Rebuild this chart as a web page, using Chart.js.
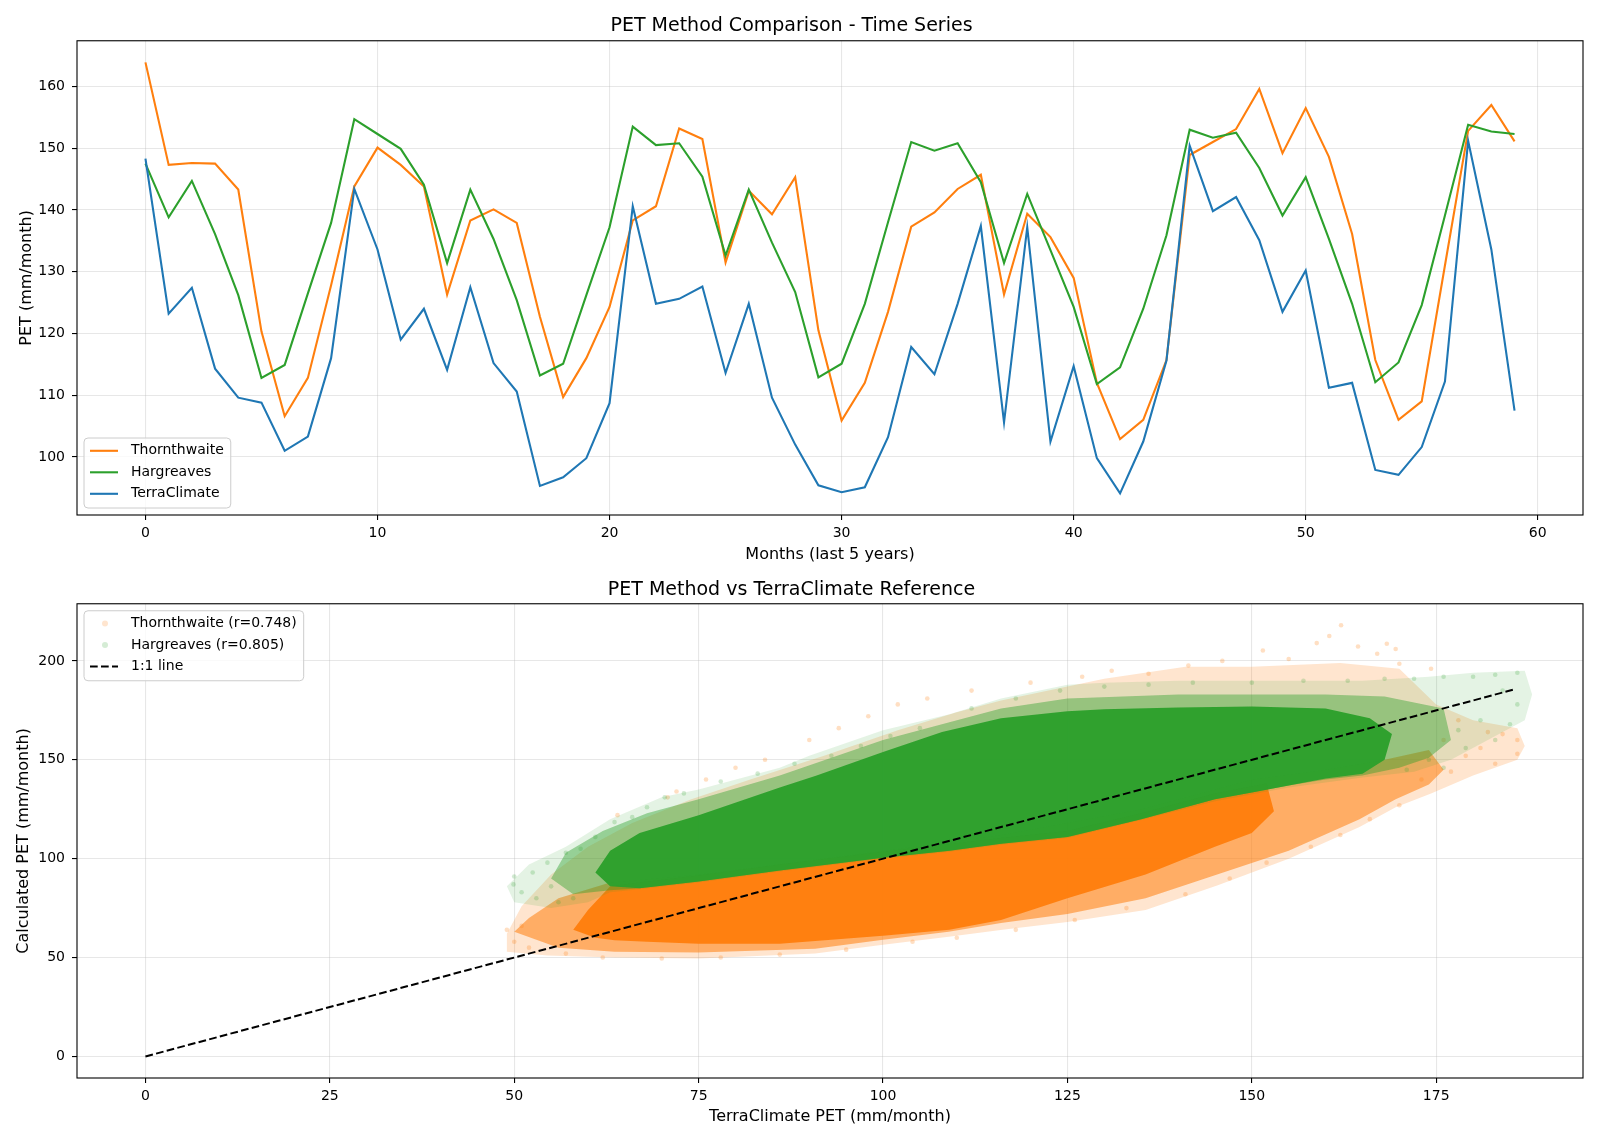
<!DOCTYPE html>
<html>
<head>
<meta charset="utf-8">
<script src="https://cdn.jsdelivr.net/npm/chart.js@4.4.0/dist/chart.umd.min.js"></script>
<style>
html, body { margin: 0; padding: 0; background: #fff; }
#wrap { position: relative; width: 1600px; height: 1142px; }
canvas { position: absolute; left: 0; }
</style>
</head>
<body>
<div id="wrap">
	<canvas id="tsChart" width="1600" height="565" style="top:0"></canvas>
	<canvas id="refChart" width="1600" height="577" style="top:565px"></canvas>
</div>
<script>
'use strict';

// monthly PET, last 5 years (mm/month)
var months = Array.from({length: 60}, function(_, i) { return i; });
var thornthwaite = [163.9, 147.3, 147.6, 147.5, 143.3, 120.3, 106.6, 112.8, 127.8, 143.8,
	150.1, 147.3, 143.8, 126.3, 138.3, 140.1, 137.9, 122.7, 109.7, 116.0,
	124.3, 138.3, 140.6, 153.2, 151.5, 131.5, 143.1, 139.3, 145.3, 120.5,
	105.9, 112.0, 123.5, 137.3, 139.6, 143.4, 145.7, 126.3, 139.4, 135.6,
	129.0, 112.0, 102.9, 106.0, 115.7, 148.9, 151.0, 153.1, 159.6, 149.2,
	156.5, 148.6, 136.1, 115.7, 106.0, 109.0, 131.0, 152.8, 157.0, 151.1];
var hargreaves = [147.5, 138.8, 144.7, 136.1, 126.2, 112.8, 114.9, 126.5, 137.9, 154.7,
	152.3, 149.9, 144.1, 131.4, 143.3, 135.3, 125.4, 113.2, 115.1, 126.2,
	137.2, 153.5, 150.5, 150.8, 145.4, 132.6, 143.3, 134.7, 126.7, 112.9,
	115.1, 124.8, 138.0, 151.0, 149.6, 150.8, 144.5, 131.4, 142.6, 133.5,
	124.3, 111.8, 114.5, 124.0, 135.9, 153.0, 151.7, 152.5, 146.8, 139.1,
	145.3, 135.3, 124.8, 112.1, 115.3, 124.6, 139.1, 153.8, 152.7, 152.3];
var terraClimate = [148.3, 123.2, 127.4, 114.3, 109.6, 108.8, 101.0, 103.3, 116.0, 143.4,
	133.6, 119.0, 124.0, 114.1, 127.5, 115.2, 110.6, 95.3, 96.7, 99.8,
	108.7, 140.6, 124.8, 125.6, 127.6, 113.6, 124.8, 109.6, 102.0, 95.4,
	94.3, 95.1, 103.2, 117.8, 113.4, 124.8, 137.4, 105.6, 137.2, 102.5,
	114.7, 99.8, 94.1, 102.5, 115.6, 150.4, 139.8, 142.1, 135.1, 123.5,
	130.2, 111.2, 112.0, 97.9, 97.1, 101.6, 112.2, 151.2, 133.6, 107.5];

var monthTicks = [0, 10, 20, 30, 40, 50, 60];
var petTicks = [100, 110, 120, 130, 140, 150, 160];

// scatter clouds vs TerraClimate, outlined as density bands [terraclimate, calculated]
var orangeHalo = [[49, 53], [54.5, 51], [63.6, 50], [75, 49.5], [90.8, 52], [100, 56.5], [108.9, 60.5], [116.2, 64], [125, 68],
	[135.6, 74], [145.3, 86.5], [155, 100], [164.6, 116], [169.5, 126], [174.3, 133], [180, 142], [186, 150], [187, 157], [186, 166],
	[180, 170], [175, 178], [170, 196], [162, 199], [150, 197], [141, 197], [130, 191], [125, 187], [116, 180], [110, 174],
	[102, 165], [92, 152], [82, 140], [74, 130], [66, 118], [60, 106], [55, 92], [51, 76], [49, 62]];
var orangeMid = [[50, 63], [56, 55], [63.6, 53], [75, 52.5], [90.8, 54.5], [100, 59], [108.9, 63], [116, 67.5], [125, 72],
	[135.6, 80], [145.3, 92], [155, 104], [164.6, 120], [169.5, 130], [174, 137.5], [176, 145], [174, 155],
	[168, 150], [160, 145], [150, 140], [135, 125], [116, 112], [100, 104], [75, 92], [63, 88], [56, 80], [52, 70]];
var orangeCore = [[58, 64], [61, 60], [63.6, 58.7], [68, 58], [75, 57], [86, 57], [100, 61], [109, 64], [116, 69], [125, 80],
	[135.6, 92], [145, 106], [150, 113], [153, 124],
	[152, 138], [145, 133], [135, 123], [125, 114], [116, 110.5], [100, 103.5], [86, 97], [75, 91.5], [67, 88], [63, 86], [60, 74]];
var orangeStray = [[162.1, 218], [160.5, 212.6], [158.8, 209], [151.5, 205.3], [164.4, 207.3], [168.3, 208.7], [169.5, 206],
	[167, 203.6], [141.4, 197.7], [136, 193.5], [170, 198.6], [174.3, 196], [146, 200], [155, 201], [131, 195], [127, 192],
	[120, 189], [112, 185], [106, 181], [102, 178], [98, 172], [94, 166], [90, 160], [84, 150], [80, 146], [76, 140],
	[72, 134], [70.8, 131], [64, 122],
	[176, 160], [179, 152], [181, 156], [183, 148], [184, 163], [186, 153], [186, 160], [178, 170], [182, 164], [177, 144],
	[173, 140],
	[170, 127], [166, 120], [162, 112], [158, 106], [152, 98], [147, 90], [141, 82], [133, 75], [126, 69], [118, 64],
	[110, 60], [104, 58], [95, 54], [86, 51.5], [78, 50], [70, 49.5], [62, 50], [57, 52], [52, 55], [50, 58], [49, 64], [51, 66]];

var greenHalo = [[49, 86], [50, 78], [55, 75], [60, 78], [63, 83], [67, 84.5], [75, 88], [86, 93.5], [100, 100], [109, 103.5],
	[116, 107], [125, 110.5], [135, 119.5], [145, 129], [155, 136], [165, 141], [172, 144], [177, 150], [182, 160], [187, 170],
	[188, 183], [187, 195],
	[180, 194], [174, 192], [165, 190], [150, 190], [140, 190], [130, 189], [125, 188], [116, 181], [109, 173], [100, 165],
	[90, 152], [86, 146], [75, 135], [70, 131], [63, 120], [57, 106], [52, 97]];
var greenMid = [[55, 90], [58, 82], [63, 84], [67, 85], [75, 88.5], [86, 94], [100, 100.5], [109, 104], [116, 107.5], [125, 111],
	[135, 120], [145, 130], [150, 133.5], [155, 137], [160, 140], [165, 142], [170, 146], [174, 151], [177, 160], [176, 176],
	[168, 182], [160, 183], [150, 183], [140, 183], [125, 181], [116, 176], [109, 169], [100, 160], [86, 142], [75, 130],
	[68, 123], [62, 114], [57, 103]];
var greenCore = [[61, 93], [63, 86], [67, 85], [75, 88.5], [86, 94], [100, 100.5], [109, 104], [116, 107.5], [125, 111],
	[135, 120], [145, 130], [150, 133.5], [155, 137], [160, 140.5], [165, 143], [168, 150], [169, 163],
	[166, 171], [160, 176], [150, 177], [140, 176.5], [130, 175.5], [125, 174.5], [116, 171], [108, 164], [100, 154],
	[91, 142], [86, 136], [75, 122], [67, 113], [63, 104]];
var greenStray = [[49.9, 87], [50, 91], [52.5, 93], [51, 83], [53, 80], [55, 86], [56, 78], [58, 80], [54.5, 98], [57, 103],
	[59, 105], [61, 111], [63.6, 118.5], [66, 121], [68, 126], [70.4, 131], [73, 133], [78, 139], [83, 143], [88, 148],
	[93, 152], [97, 157], [101, 162], [105, 166],
	[112, 176], [118, 181], [124, 185], [130, 187], [136, 188], [142, 189], [150, 189], [157, 190], [163, 190], [168, 191],
	[172, 191], [176, 192], [180, 192], [183, 193], [186, 194], [184, 185], [186, 178], [181, 170], [185, 168], [178, 165],
	[183, 160], [179, 156], [174, 150], [176, 146], [171, 145]];

var oneToOne = [[0, 0], [185.6, 185.6]];
var refTicksX = [0, 25, 50, 75, 100, 125, 150, 175];
var refTicksY = [0, 50, 100, 150, 200];

var ORANGE = '#ff7f0e', GREEN = '#2ca02c', BLUE = '#1f77b4';

Chart.defaults.font.family = "'DejaVu Sans', sans-serif";
Chart.defaults.font.size = 14;
Chart.defaults.color = '#000';

var xy = function(pts) {
	return pts.map(function(p) { return {x: p[0], y: p[1]}; });
};
var series = function(vals) {
	return vals.map(function(v, i) { return {x: months[i], y: v}; });
};

// matplotlib-like axes: fixed ticks, light grid, dark tick marks
var makeAxis = function(min, max, tickVals, label, fitSize, titlePad, horizontal) {
	return {
		type: 'linear',
		min: min,
		max: max,
		afterBuildTicks: function(scale) {
			scale.ticks = tickVals.map(function(v) { return {value: v}; });
		},
		afterFit: function(scale) {
			if (horizontal) scale.height = fitSize; else scale.width = fitSize;
		},
		grid: {color: 'rgba(176,176,176,0.3)', lineWidth: 1.1, tickColor: '#000', tickLength: 5, tickWidth: 1.1},
		border: {display: false},
		ticks: {color: '#000', padding: horizontal ? 5 : 7, maxRotation: 0, autoSkip: false, font: {size: 14}},
		title: {display: true, text: label, color: '#000', font: {size: 16}, padding: titlePad}
	};
};

var framePlugin = {
	id: 'frame',
	afterDatasetsDraw: function(chart) {
		var a = chart.chartArea, ctx = chart.ctx;
		ctx.save();
		ctx.strokeStyle = '#000';
		ctx.lineWidth = 1.1;
		ctx.strokeRect(a.left, a.top, a.right - a.left, a.bottom - a.top);
		ctx.restore();
	}
};

// legend box drawn inside the plot area
var boxLegend = {
	id: 'boxLegend',
	afterDraw: function(chart, args, opts) {
		var a = chart.chartArea, ctx = chart.ctx;
		var items = opts.items;
		var rowH = 21.5;
		ctx.save();
		ctx.font = "14px 'DejaVu Sans', sans-serif";
		var textW = 0;
		items.forEach(function(it) { textW = Math.max(textW, ctx.measureText(it.label).width); });
		var w = 47 + textW + 7;
		var h = items.length * rowH + 5.5;
		var x = a.left + 7;
		var y = opts.corner === 'bottom' ? a.bottom - 7 - h : a.top + 7;
		var r = 4;
		ctx.beginPath();
		ctx.moveTo(x + r, y);
		ctx.arcTo(x + w, y, x + w, y + h, r);
		ctx.arcTo(x + w, y + h, x, y + h, r);
		ctx.arcTo(x, y + h, x, y, r);
		ctx.arcTo(x, y, x + w, y, r);
		ctx.closePath();
		ctx.fillStyle = 'rgba(255,255,255,0.8)';
		ctx.fill();
		ctx.strokeStyle = '#cccccc';
		ctx.lineWidth = 1;
		ctx.stroke();
		items.forEach(function(it, i) {
			var cy = y + 12.8 + i * rowH;
			if (it.kind === 'dot') {
				ctx.beginPath();
				ctx.arc(x + 21, cy, 3, 0, Math.PI * 2);
				ctx.fillStyle = it.color;
				ctx.fill();
			} else {
				ctx.beginPath();
				ctx.setLineDash(it.kind === 'dash' ? [7.7, 3.3] : []);
				ctx.moveTo(x + 6, cy);
				ctx.lineTo(x + 34, cy);
				ctx.strokeStyle = it.color;
				ctx.lineWidth = it.kind === 'dash' ? 2 : 2.1;
				ctx.stroke();
				ctx.setLineDash([]);
			}
			ctx.fillStyle = '#000';
			ctx.textBaseline = 'middle';
			ctx.textAlign = 'left';
			ctx.fillText(it.label, x + 47, cy);
		});
		ctx.restore();
	}
};

// Time series
new Chart(document.getElementById('tsChart'), {
	type: 'line',
	data: {
		datasets: [
			{label: 'TerraClimate', data: series(terraClimate), borderColor: BLUE, order: 0},
			{label: 'Hargreaves', data: series(hargreaves), borderColor: GREEN, order: 1},
			{label: 'Thornthwaite', data: series(thornthwaite), borderColor: ORANGE, order: 2}
		]
	},
	options: {
		responsive: false,
		animation: false,
		events: [],
		layout: {padding: {left: 0, right: 17, top: 0, bottom: 0}},
		elements: {line: {borderWidth: 2.1, tension: 0, fill: false}, point: {radius: 0}},
		scales: {
			x: makeAxis(-2.95, 61.95, monthTicks, 'Months (last 5 years)', 50, {top: 0, bottom: 0.6}, true),
			y: makeAxis(90.6, 167.4, petTicks, 'PET (mm/month)', 77, {top: 16.9, bottom: 0}, false)
		},
		plugins: {
			legend: {display: false},
			tooltip: {enabled: false},
			title: {
				display: true,
				text: 'PET Method Comparison - Time Series',
				color: '#000',
				font: {size: 19, weight: 'normal'},
				padding: {top: 14.4, bottom: 3.56}
			},
			boxLegend: {
				corner: 'bottom',
				items: [
					{label: 'Thornthwaite', kind: 'line', color: ORANGE},
					{label: 'Hargreaves', kind: 'line', color: GREEN},
					{label: 'TerraClimate', kind: 'line', color: BLUE}
				]
			}
		}
	},
	plugins: [framePlugin, boxLegend]
});

// Scatter vs reference; each band is a filled outline, lower order draws on top
var band = function(pts, color, order) {
	return {type: 'line', data: xy(pts), showLine: true, fill: 'shape', backgroundColor: color,
		borderColor: 'rgba(0,0,0,0)', borderWidth: 0, pointRadius: 0, tension: 0, order: order};
};
var stray = function(pts, color, order) {
	return {type: 'scatter', data: xy(pts), backgroundColor: color, borderWidth: 0, pointRadius: 2.3, order: order};
};

new Chart(document.getElementById('refChart'), {
	type: 'scatter',
	data: {
		datasets: [
			{type: 'line', label: '1:1 line', data: xy(oneToOne), borderColor: '#000', borderWidth: 2,
				borderDash: [7.7, 3.3], pointRadius: 0, fill: false, order: 0},
			stray(greenStray, 'rgba(44,160,44,0.22)', 1),
			band(greenCore, 'rgba(44,160,44,0.96)', 2),
			band(greenMid, 'rgba(44,160,44,0.42)', 3),
			band(greenHalo, 'rgba(44,160,44,0.13)', 4),
			stray(orangeStray, 'rgba(255,127,14,0.25)', 5),
			band(orangeCore, 'rgba(255,127,14,0.96)', 6),
			band(orangeMid, 'rgba(255,127,14,0.55)', 7),
			band(orangeHalo, 'rgba(255,127,14,0.2)', 8)
		]
	},
	options: {
		responsive: false,
		animation: false,
		events: [],
		layout: {padding: {left: 0, right: 17, top: 0, bottom: 0}},
		scales: {
			x: makeAxis(-9.28, 194.9, refTicksX, 'TerraClimate PET (mm/month)', 64, {top: 0, bottom: 15.1}, true),
			y: makeAxis(-10.9, 228.9, refTicksY, 'Calculated PET (mm/month)', 77, {top: 13.9, bottom: 0}, false)
		},
		plugins: {
			legend: {display: false},
			tooltip: {enabled: false},
			title: {
				display: true,
				text: 'PET Method vs TerraClimate Reference',
				color: '#000',
				font: {size: 19, weight: 'normal'},
				padding: {top: 13.4, bottom: 2.56}
			},
			boxLegend: {
				corner: 'top',
				items: [
					{label: 'Thornthwaite (r=0.748)', kind: 'dot', color: 'rgba(255,127,14,0.2)'},
					{label: 'Hargreaves (r=0.805)', kind: 'dot', color: 'rgba(44,160,44,0.2)'},
					{label: '1:1 line', kind: 'dash', color: '#000'}
				]
			}
		}
	},
	plugins: [framePlugin, boxLegend]
});
</script>
</body>
</html>
